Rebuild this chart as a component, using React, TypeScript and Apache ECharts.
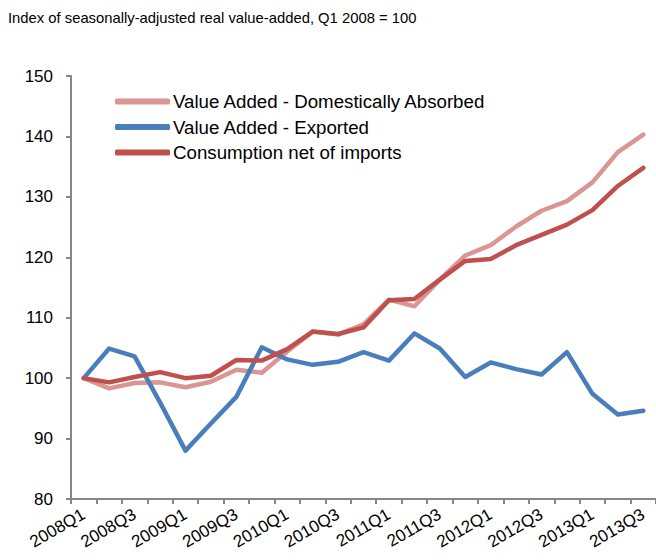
import React, { useEffect, useRef } from "react";
import * as echarts from "echarts";

const categories = [
  "2008Q1", "2008Q2", "2008Q3", "2008Q4",
  "2009Q1", "2009Q2", "2009Q3", "2009Q4",
  "2010Q1", "2010Q2", "2010Q3", "2010Q4",
  "2011Q1", "2011Q2", "2011Q3", "2011Q4",
  "2012Q1", "2012Q2", "2012Q3", "2012Q4",
  "2013Q1", "2013Q2", "2013Q3",
];

const domesticallyAbsorbed = [
  100, 98.3, 99.2, 99.3, 98.5, 99.4, 101.4, 100.9, 104.4, 107.7, 107.2, 108.9,
  113.0, 111.9, 116.3, 120.3, 122.0, 125.1, 127.7, 129.3, 132.4, 137.4, 140.3,
];

const exported = [
  100, 104.9, 103.6, 96.0, 88.0, 92.5, 96.9, 105.1, 103.1, 102.2, 102.7, 104.3,
  102.9, 107.4, 104.9, 100.2, 102.6, 101.5, 100.6, 104.3, 97.4, 94.0, 94.6,
];

const consumptionNetOfImports = [
  100, 99.3, 100.2, 101.0, 100.0, 100.4, 103.0, 102.9, 104.8, 107.7, 107.3, 108.4,
  112.9, 113.1, 116.3, 119.4, 119.7, 122.0, 123.7, 125.4, 127.8, 131.8, 134.8,
];

const yTicks = { min: 80, max: 150, interval: 10 };

const FONT = "'Liberation Sans', Arial, sans-serif";

export default function App() {
  const ref = useRef<HTMLDivElement>(null);

  useEffect(() => {
    if (!ref.current) return;
    const chart = echarts.init(ref.current, null, { renderer: "svg" });
    const mkSeries = (name: string, data: number[], color: string) => ({
      name,
      type: "line",
      data,
      symbol: "none",
      lineStyle: { color, width: 4.5, cap: "round", join: "round" },
      itemStyle: { color },
    });
    chart.setOption({
      animation: false,
      backgroundColor: "#ffffff",
      title: {
        text: "Index of seasonally-adjusted real value-added, Q1 2008 = 100",
        left: 8,
        top: 10,
        padding: 0,
        textStyle: { fontFamily: FONT, fontSize: 14.8, fontWeight: "normal", color: "#000" },
      },
      legend: {
        orient: "vertical",
        left: 115,
        top: 92,
        padding: 0,
        itemWidth: 55,
        itemHeight: 6,
        itemGap: 6.5,
        icon: "roundRect",
        textStyle: { fontFamily: FONT, fontSize: 18.7, color: "#000", padding: [0, 0, 0, -2] },
        data: [
          "Value Added - Domestically Absorbed",
          "Value Added - Exported",
          "Consumption net of imports",
        ],
      },
      grid: { left: 71, right: 0, top: 76, bottom: 61, containLabel: false },
      xAxis: {
        type: "category",
        data: categories,
        boundaryGap: true,
        axisLine: { lineStyle: { color: "#878787", width: 2 } },
        axisTick: { show: true, length: 5, inside: false, interval: 0, lineStyle: { color: "#878787", width: 2 } },
        axisLabel: {
          interval: 1,
          rotate: 30,
          fontFamily: FONT,
          fontSize: 17,
          color: "#000",
          margin: 14,
        },
        splitLine: { show: false },
      },
      yAxis: {
        type: "value",
        min: yTicks.min,
        max: yTicks.max,
        interval: yTicks.interval,
        axisLine: { show: true, lineStyle: { color: "#878787", width: 2 } },
        axisTick: { show: true, length: 5, lineStyle: { color: "#878787", width: 2 } },
        axisLabel: { fontFamily: FONT, fontSize: 17, color: "#000", margin: 18 },
        splitLine: { show: false },
      },
      series: [
        mkSeries("Value Added - Domestically Absorbed", domesticallyAbsorbed, "#D99694"),
        mkSeries("Value Added - Exported", exported, "#4A7EBB"),
        mkSeries("Consumption net of imports", consumptionNetOfImports, "#C0504D"),
      ],
    });
    return () => chart.dispose();
  }, []);

  return (
    <div
      ref={ref}
      style={{ position: "fixed", left: 0, top: 0, width: 656, height: 560 }}
    />
  );
}
